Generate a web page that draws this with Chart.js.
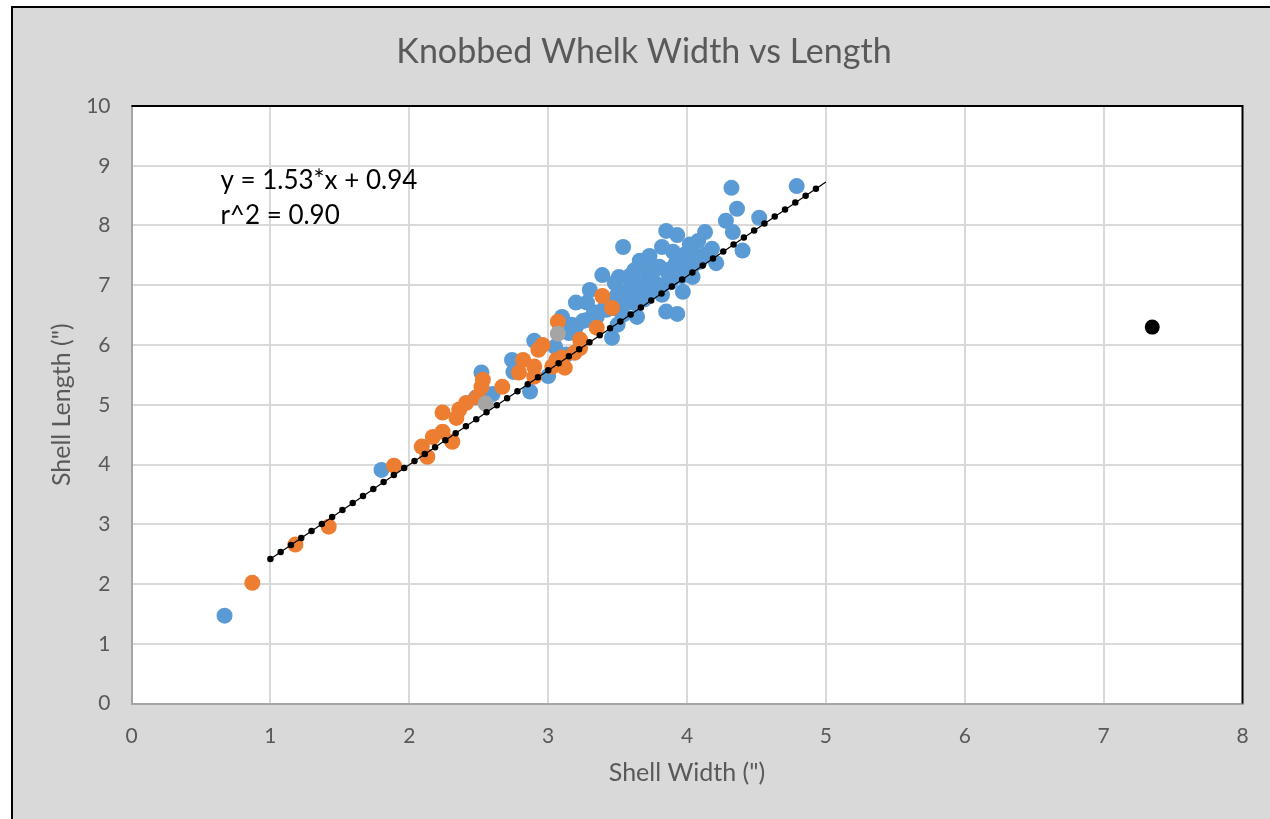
<!DOCTYPE html>
<html lang="en">
  <head>
    <meta charset="UTF-8" />
    <title>Knobbed Whelk Width vs Length</title>
    <script src="https://cdn.jsdelivr.net/npm/chart.js@4"></script>
    <style>
      body { margin: 0; background: #fff; }
      canvas { display: block; }
    </style>
  </head>
  <body>
    <canvas id="myChart" width="1270" height="819"></canvas>

    <script>
      // shell width / length readings (inches)
      const blueX = [0.67, 1.80, 2.52, 2.60, 2.48, 2.74, 2.75, 2.87, 2.90, 3.00, 3.05, 3.10, 3.13, 3.17, 3.20, 3.28, 3.28, 3.30, 3.35, 3.39,
        3.42, 3.46, 3.48, 3.50, 3.51, 3.51, 3.54, 3.54, 3.56, 3.59, 3.61, 3.64, 3.64, 3.66, 3.69, 3.71, 3.71, 3.73, 3.75, 3.80,
        3.82, 3.82, 3.85, 3.85, 3.90, 3.92, 3.93, 3.93, 3.97, 3.98, 4.04, 4.04, 4.08, 4.13, 4.18, 4.21, 4.28, 4.33, 4.32, 4.36,
        4.40, 4.52, 4.79, 3.87, 4.00, 4.09, 3.79, 3.68, 4.02, 4.13,
        3.40, 3.45, 3.55, 3.60, 3.70, 3.75, 3.85, 3.90, 3.95, 3.78, 3.65, 3.88, 3.96, 4.05, 3.72, 3.62, 3.50, 3.33, 3.25, 3.15, 3.20];
      const blueY = [1.47, 3.91, 5.54, 5.18, 5.12, 5.75, 5.55, 5.22, 6.07, 5.48, 5.97, 6.47, 5.84, 6.34, 6.71, 6.42, 6.71, 6.92, 6.47, 7.17,
        6.59, 6.12, 7.04, 6.34, 6.59, 7.14, 7.64, 6.51, 6.76, 7.16, 6.71, 6.97, 6.47, 7.41, 6.76, 7.26, 6.81, 7.49, 7.09, 7.31,
        7.64, 6.84, 7.91, 6.56, 7.56, 7.37, 7.84, 6.52, 6.89, 7.51, 7.54, 7.14, 7.74, 7.89, 7.61, 7.37, 8.08, 7.89, 8.63, 8.28,
        7.58, 8.13, 8.66, 7.17, 7.26, 7.39, 7.01, 7.04, 7.68, 7.51,
        6.60, 6.75, 6.90, 7.00, 7.00, 7.20, 7.25, 7.30, 7.35, 6.95, 6.85, 7.05, 7.15, 7.35, 7.40, 7.25, 6.85, 6.55, 6.40, 6.20, 6.30];

      const orangeX = [0.87, 1.18, 1.42, 1.89, 2.09, 2.13, 2.17, 2.24, 2.24, 2.31, 2.34, 2.36, 2.41, 2.49, 2.52, 2.53, 2.67, 2.79,
        2.82, 2.90, 2.90, 2.93, 2.96, 3.03, 3.06, 3.10, 3.10, 3.12, 3.19, 3.23, 3.23, 3.07, 3.35, 3.39, 3.46];
      const orangeY = [2.02, 2.66, 2.96, 3.98, 4.30, 4.13, 4.46, 4.55, 4.87, 4.38, 4.78, 4.92, 5.03, 5.13, 5.30, 5.42, 5.30, 5.54,
        5.75, 5.64, 5.47, 5.92, 6.00, 5.64, 5.75, 5.67, 5.79, 5.62, 5.87, 6.09, 5.95, 6.39, 6.29, 6.82, 6.62];

      const greyX = [3.07, 2.55];
      const greyY = [6.19, 5.02];

      const outlierX = [7.35];
      const outlierY = [6.30];

      // regression line ends as drawn
      const fitX = [1, 5];
      const fitY = [2.42, 8.73];

      const eqLines = ['y = 1.53*x + 0.94', 'r^2 = 0.90'];
      const eqPos = { x: 0.64, y: [8.75, 8.16] };

      const pts = (xs, ys) => xs.map((x, i) => ({ x: x, y: ys[i] }));

      const frame = {
        id: 'frame',
        beforeDraw(chart) {
          const c = chart.ctx, a = chart.chartArea;
          c.save();
          c.fillStyle = '#ffffff';
          c.fillRect(0, 0, chart.width, chart.height);
          c.fillStyle = '#d9d9d9';
          c.fillRect(12, 7, chart.width - 12, chart.height - 7);
          c.strokeStyle = '#000';
          c.lineWidth = 2;
          c.beginPath();
          c.moveTo(12, chart.height);
          c.lineTo(12, 7);
          c.lineTo(chart.width, 7);
          c.stroke();
          c.fillStyle = '#ffffff';
          c.fillRect(a.left, a.top, a.right - a.left, a.bottom - a.top);
          c.restore();
        },
        beforeDatasetsDraw(chart) {
          const c = chart.ctx, a = chart.chartArea;
          c.save();
          c.strokeStyle = '#000';
          c.lineWidth = 2;
          c.beginPath();
          c.moveTo(a.left, a.top);
          c.lineTo(a.right, a.top);
          c.lineTo(a.right, a.bottom);
          c.stroke();
          c.restore();
        },
        afterDatasetsDraw(chart) {
          const c = chart.ctx;
          const sx = chart.scales.x, sy = chart.scales.y;
          c.save();
          c.fillStyle = '#000';
          c.font = '26px Lato';
          c.textBaseline = 'middle';
          c.textAlign = 'left';
          eqLines.forEach((t, i) => {
            c.fillText(t, sx.getPixelForValue(eqPos.x), sy.getPixelForValue(eqPos.y[i]));
          });
          c.restore();
        }
      };

      const ctx = document.getElementById('myChart').getContext('2d');
      const myChart = new Chart(ctx, {
        type: 'scatter',
        data: {
          datasets: [
            {
              label: 'fit dots',
              type: 'line',
              data: pts(fitX, fitY),
              borderColor: '#000',
              borderWidth: 6.5,
              borderDash: [0, 12.44],
              borderCapStyle: 'round',
              pointRadius: 0,
              fill: false,
              order: 0
            },
            {
              label: 'fit',
              type: 'line',
              data: pts(fitX, fitY),
              borderColor: '#000',
              borderWidth: 1.2,
              pointRadius: 0,
              fill: false,
              order: 1
            },
            {
              label: 'outlier',
              data: pts(outlierX, outlierY),
              backgroundColor: '#000',
              borderWidth: 0,
              pointRadius: 7.5,
              order: 2
            },
            {
              label: 'grey',
              data: pts(greyX, greyY),
              backgroundColor: '#a5a5a5',
              borderWidth: 0,
              pointRadius: 8,
              order: 3
            },
            {
              label: 'orange',
              data: pts(orangeX, orangeY),
              backgroundColor: '#ed7d31',
              borderWidth: 0,
              pointRadius: 8,
              order: 4
            },
            {
              label: 'blue',
              data: pts(blueX, blueY),
              backgroundColor: '#5b9bd5',
              borderWidth: 0,
              pointRadius: 8,
              order: 5
            }
          ]
        },
        options: {
          responsive: false,
          animation: false,
          layout: { padding: { left: 45.5, right: 27.5, top: 0, bottom: 0 } },
          plugins: {
            legend: { display: false },
            tooltip: { enabled: false },
            title: {
              display: true,
              text: 'Knobbed Whelk Width vs Length',
              color: '#595959',
              font: { family: 'Lato', size: 34, weight: 'normal' },
              padding: { top: 31.6, bottom: 33.6 }
            }
          },
          scales: {
            x: {
              type: 'linear',
              min: 0,
              max: 8,
              afterFit(scale) { scale.height = 115.5; },
              ticks: { stepSize: 1, color: '#595959', font: { family: 'Lato', size: 21 }, padding: 20 },
              grid: { color: '#d9d9d9', lineWidth: 2, drawTicks: false },
              border: { color: '#a6a6a6', width: 2 },
              title: {
                display: true,
                text: 'Shell Width (")',
                color: '#595959',
                font: { family: 'Lato', size: 25 },
                padding: { top: 0, bottom: 31.5 }
              }
            },
            y: {
              type: 'linear',
              min: 0,
              max: 10,
              afterFit(scale) { scale.width = 86; },
              ticks: { stepSize: 1, color: '#595959', font: { family: 'Lato', size: 21 }, padding: 21 },
              grid: { color: '#d9d9d9', lineWidth: 2, drawTicks: false },
              border: { color: '#a6a6a6', width: 2 },
              title: {
                display: true,
                text: 'Shell Length (")',
                color: '#595959',
                font: { family: 'Lato', size: 25 },
                padding: { top: 1.5, bottom: 0 }
              }
            }
          }
        },
        plugins: [frame]
      });
    </script>
  </body>
</html>
